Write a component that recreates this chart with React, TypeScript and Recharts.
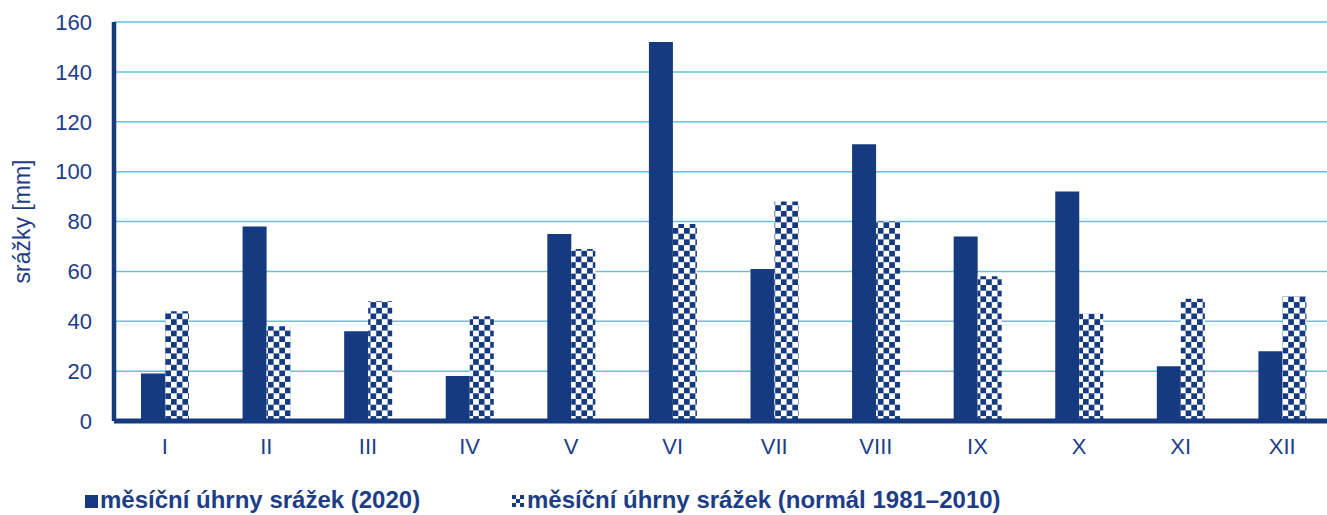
import React from "react";
import {
  BarChart,
  Bar,
  XAxis,
  YAxis,
  CartesianGrid,
  Legend,
} from "recharts";

const months = ["I", "II", "III", "IV", "V", "VI", "VII", "VIII", "IX", "X", "XI", "XII"];
const rain2020 = [19, 78, 36, 18, 75, 152, 61, 111, 74, 92, 22, 28];
const rainNormal = [44, 38, 48, 42, 69, 79, 88, 80, 58, 43, 49, 50];
const yTicks = [0, 20, 40, 60, 80, 100, 120, 140, 160];

const BLUE = "#153a80";
const TEXT = "#1d3d87";
const GRID = "#5fc6d6";
const FONT = "'Liberation Sans', Arial, sans-serif";

const data = months.map((m, i) => ({
  month: m,
  y2020: rain2020[i],
  normal: rainNormal[i],
}));

function LegendContent() {
  const text: React.CSSProperties = {
    position: "absolute",
    top: 15,
    fontFamily: FONT,
    fontWeight: 700,
    fontSize: 24,
    color: TEXT,
    whiteSpace: "nowrap",
    lineHeight: "28px",
  };
  return (
    <div style={{ position: "relative", height: 44 }}>
      <svg width={13} height={13} style={{ position: "absolute", left: 85, top: 24 }}>
        <rect width={13} height={13} fill={BLUE} />
      </svg>
      <span style={{ ...text, left: 100 }}>měsíční úhrny srážek (2020)</span>
      <svg width={12} height={12} style={{ position: "absolute", left: 512, top: 24 }}>
        <rect width={12} height={12} fill="#fff" />
        <rect x={0} y={0} width={4} height={4} fill={BLUE} />
        <rect x={8} y={0} width={4} height={4} fill={BLUE} />
        <rect x={4} y={4} width={4} height={4} fill={BLUE} />
        <rect x={0} y={8} width={4} height={4} fill={BLUE} />
        <rect x={8} y={8} width={4} height={4} fill={BLUE} />
      </svg>
      <span style={{ ...text, left: 527 }}>měsíční úhrny srážek (normál 1981–2010)</span>
    </div>
  );
}

export default function App() {
  return (
    <div style={{ position: "absolute", left: 0, top: 0, width: 1327, height: 515, overflow: "hidden", background: "#fff" }}>
      <BarChart
        width={1333}
        height={515}
        data={data}
        margin={{ top: 22, right: 0, left: 0, bottom: 0 }}
        barSize={24}
        barGap={0}
      >
        <defs>
          <pattern id="checker" patternUnits="userSpaceOnUse" width={11.4} height={11.4}>
            <rect width={11.4} height={11.4} fill="#fff" />
            <rect x={0} y={0} width={5.7} height={5.7} fill={BLUE} />
            <rect x={5.7} y={5.7} width={5.7} height={5.7} fill={BLUE} />
          </pattern>
        </defs>
        <CartesianGrid vertical={false} stroke={GRID} strokeWidth={1.5} />
        <XAxis
          dataKey="month"
          height={50}
          axisLine={{ stroke: BLUE, strokeWidth: 5 }}
          tickLine={false}
          tickSize={0}
          tickMargin={17}
          tick={{ fill: TEXT, fontSize: 22, fontFamily: FONT }}
        />
        <YAxis
          width={114}
          domain={[0, 160]}
          ticks={yTicks}
          interval={0}
          axisLine={{ stroke: BLUE, strokeWidth: 4.5 }}
          tickLine={false}
          tickSize={0}
          tickMargin={22}
          tick={{ fill: TEXT, fontSize: 22, fontFamily: FONT }}
          label={{
            value: "srážky [mm]",
            angle: -90,
            position: "insideLeft",
            offset: 22,
            style: { fill: TEXT, fontSize: 23, fontFamily: FONT, textAnchor: "middle" },
          }}
        />
        <Legend verticalAlign="bottom" height={44} content={<LegendContent />} />
        <Bar dataKey="y2020" fill={BLUE} isAnimationActive={false} />
        <Bar dataKey="normal" fill="url(#checker)" isAnimationActive={false} />
      </BarChart>
    </div>
  );
}
